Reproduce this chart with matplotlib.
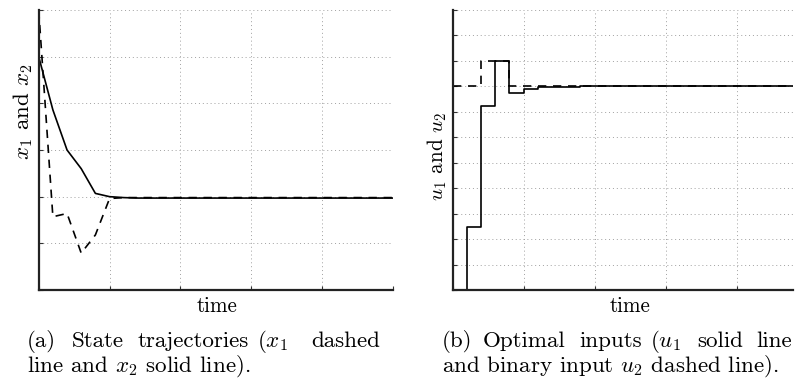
import matplotlib
matplotlib.use("Agg")
import matplotlib.pyplot as plt

plt.rcParams["font.family"] = ["cmr10", "DejaVu Serif"]
plt.rcParams["mathtext.fontset"] = "cm"
plt.rcParams["axes.unicode_minus"] = False

# sampled state trajectories (sample time 0.2)
t_state = [0.0, 0.2, 0.4, 0.6, 0.8, 1.0, 1.2, 1.4, 1.6, 1.8, 2.0, 2.2, 2.4,
           2.6, 2.8, 3.0, 3.2, 3.4, 3.6, 3.8, 4.0, 4.2, 4.4, 4.6, 4.8, 5.0]
x1 = [6.0, 1.57, 1.64, 0.79, 1.18, 1.96, 1.98, 1.98, 1.98, 1.98, 1.98, 1.98, 1.98,
      1.98, 1.98, 1.98, 1.98, 1.98, 1.98, 1.98, 1.98, 1.98, 1.98, 1.98, 1.98, 1.98]
x2 = [5.0, 3.86, 3.0, 2.6, 2.07, 2.0, 1.98, 1.97, 1.97, 1.97, 1.97, 1.97, 1.97,
      1.97, 1.97, 1.97, 1.97, 1.97, 1.97, 1.97, 1.97, 1.97, 1.97, 1.97, 1.97, 1.97]

# piecewise-constant inputs
t_input = [0.0, 0.2, 0.4, 0.6, 0.8, 1.0, 1.2, 1.4, 1.6, 1.8, 2.0, 2.2, 2.4,
           2.6, 2.8, 3.0, 3.2, 3.4, 3.6, 3.8, 4.0, 4.2, 4.4, 4.6, 4.8]
u1 = [0.0, 2.49, 7.23, 9.0, 7.75, 7.88, 7.96, 7.98, 7.99, 8.0, 8.0, 8.0, 8.0,
      8.0, 8.0, 8.0, 8.0, 8.0, 8.0, 8.0, 8.0, 8.0, 8.0, 8.0, 8.0]
u2 = [8, 8, 9, 9, 8, 8, 8, 8, 8, 8, 8, 8, 8,
      8, 8, 8, 8, 8, 8, 8, 8, 8, 8, 8, 8]

W, H = 800, 379
fig = plt.figure(figsize=(W / 100, H / 100), dpi=100)


def px_axes(left, top, right, bottom):
    return fig.add_axes([left / W, 1 - bottom / H, (right - left) / W, (bottom - top) / H])


def style(ax, xmax, ymax):
    ax.set_xlim(0, xmax)
    ax.set_ylim(0, ymax)
    ax.set_xticks(range(0, int(xmax) + 1))
    ax.set_yticks(range(0, ymax + 1))
    ax.set_xticklabels([])
    ax.set_yticklabels([])
    ax.tick_params(direction="in", length=3, width=0.8, color="#333333")
    for s in ("top", "right"):
        ax.spines[s].set_visible(False)
    for s in ("left", "bottom"):
        ax.spines[s].set_linewidth(1.6)
        ax.spines[s].set_color("#222222")
    ax.grid(True, linestyle=(0, (1, 3)), color="#a0a0a0", linewidth=0.7)
    ax.set_axisbelow(True)


dash = (0, (5, 4))

ax1 = px_axes(38.7, 10, 393, 290)
style(ax1, 5, 6)
ax1.plot(t_state, x1, color="black", linestyle=dash, linewidth=1.2)
ax1.plot(t_state, x2, color="black", linewidth=1.2)

ax2 = px_axes(452.7, 10, 793.3, 290)
style(ax2, 4.8, 11)
ax2.set_xticks([0, 1, 2, 3, 4])
ax2.step(t_input, u2, where="post", color="black", linestyle=dash, linewidth=1.2)
ax2.step(t_input, u1, where="post", color="black", linewidth=1.2)


def ftext(x, y, s, **kw):
    fig.text(x / W, 1 - y / H, s, **kw)


ftext(217, 312, "time", ha="center", va="baseline", fontsize=15.2)
ftext(630, 312, "time", ha="center", va="baseline", fontsize=15.2)
ftext(23, 112, r"$x_1$ and $x_2$", ha="center", va="center", rotation=90, fontsize=16.5)
ftext(437, 156, r"$u_1$ and $u_2$", ha="center", va="center", rotation=90, fontsize=15.2)

cap = 16.6
# justified first caption lines
for x, w in [(27, "(a)"), (72, "State"), (138, "trajectories"), (257, r"($x_1$"), (311, "dashed")]:
    ftext(x, 347, w, ha="left", va="baseline", fontsize=cap)
ftext(27, 372, r"line and $x_2$ solid line).", ha="left", va="baseline", fontsize=cap)

for x, w in [(442, "(b)"), (483, "Optimal"), (579, "inputs"), (650, r"($u_1$"), (697, "solid"), (756, "line")]:
    ftext(x, 347, w, ha="left", va="baseline", fontsize=cap)
ftext(442, 372, r"and binary input $u_2$ dashed line).", ha="left", va="baseline", fontsize=cap)

fig.savefig("out.png", dpi=100)
